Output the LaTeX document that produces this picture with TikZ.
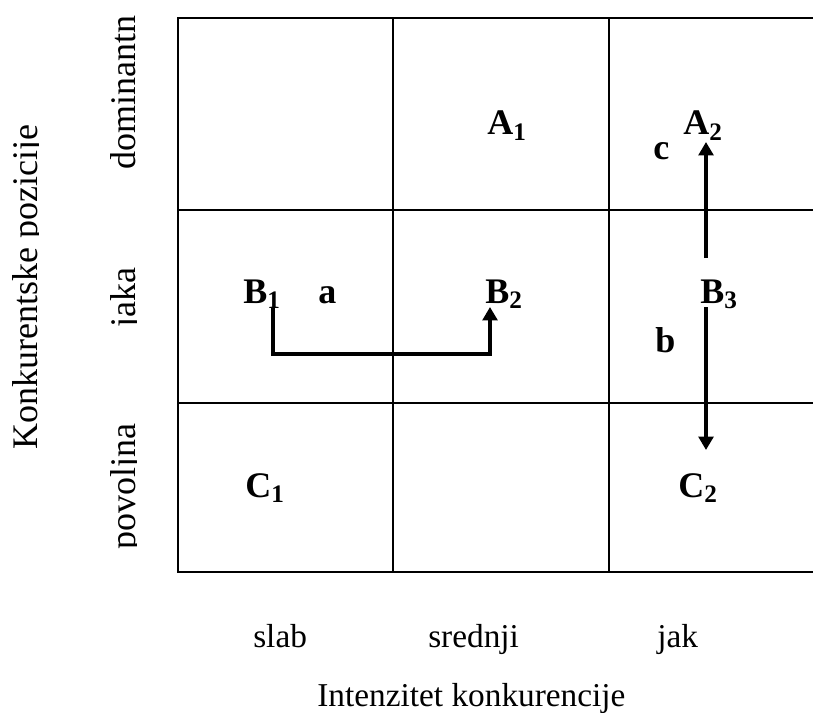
\documentclass[tikz,border=0pt]{standalone}
\usepackage{fontspec}
\setmainfont{Liberation Serif}
\usetikzlibrary{arrows.meta}
\begin{document}
\begin{tikzpicture}[x=0.75pt,y=-0.75pt,
  outer/.style={line width=1.4pt},
  inner/.style={line width=1pt},
  lbl/.style={font=\fontsize{27}{30}\selectfont\bfseries, inner sep=0pt, anchor=base west},
  axislbl/.style={font=\fontsize{25}{28}\selectfont, inner sep=0pt, anchor=base west},
  vaxislbl/.style={font=\fontsize{27}{30}\selectfont, inner sep=0pt, anchor=base west, rotate=90},
  move/.style={line width=3.4pt, -{Triangle[width=11pt,length=10pt]}}
]
\useasboundingbox (0,0) rectangle (813,713);
% grid
\draw[inner] (393,18) -- (393,572);
\draw[inner] (609,18) -- (609,572);
\draw[inner] (178,210) -- (820,210);
\draw[inner] (178,403) -- (820,403);
\draw[outer] (820,18) -- (178,18) -- (178,572) -- (820,572);
% cell labels
\node[lbl] (A1) at (487,135) {A\textsubscript{1}};
\node[lbl] (A2) at (683,135) {A\textsubscript{2}};
\node[lbl] (c) at (653,160) {c};
\node[lbl] (B1) at (243,303) {B\textsubscript{1}};
\node[lbl] (a) at (318,303) {a};
\node[lbl] (B2) at (485,303) {B\textsubscript{2}};
\node[lbl] (B3) at (700,303) {B\textsubscript{3}};
\node[lbl] (b) at (655,352) {b};
\node[lbl] (C1) at (245,497) {C\textsubscript{1}};
\node[lbl] (C2) at (678,497) {C\textsubscript{2}};
% arrows
\coordinate (B1end) at (273,307);
\coordinate (B2end) at (490,307);
\coordinate (B3up) at (706,258);
\coordinate (A2end) at (706,142);
\coordinate (B3down) at (706,307);
\coordinate (C2end) at (706,450);
\draw[move] (B1end) -- ++(0,47) -| (B2end);
\draw[move] (B3up) -- (A2end);
\draw[move] (B3down) -- (C2end);
% horizontal axis
\node[axislbl] (slab) at (253,647) {slab};
\node[axislbl] (srednji) at (428,647) {srednji};
\node[axislbl] (jak) at (657,647) {jak};
\node[axislbl] (xtitle) at (317,706) {Intenzitet konkurencije};
% vertical axis
\begin{scope}
\clip (40,15) rectangle (136,713);
\node[vaxislbl] (dom) at (135,170) {dominantna};
\node[vaxislbl] (jaka) at (135,328) {jaka};
\node[vaxislbl] (pov) at (135,550) {povoljna};
\end{scope}
\begin{scope}
\clip (0,0) rectangle (38,713);
\node[vaxislbl] (ytitle) at (37,450) {Konkurentske pozicije};
\end{scope}
\end{tikzpicture}
\end{document}
